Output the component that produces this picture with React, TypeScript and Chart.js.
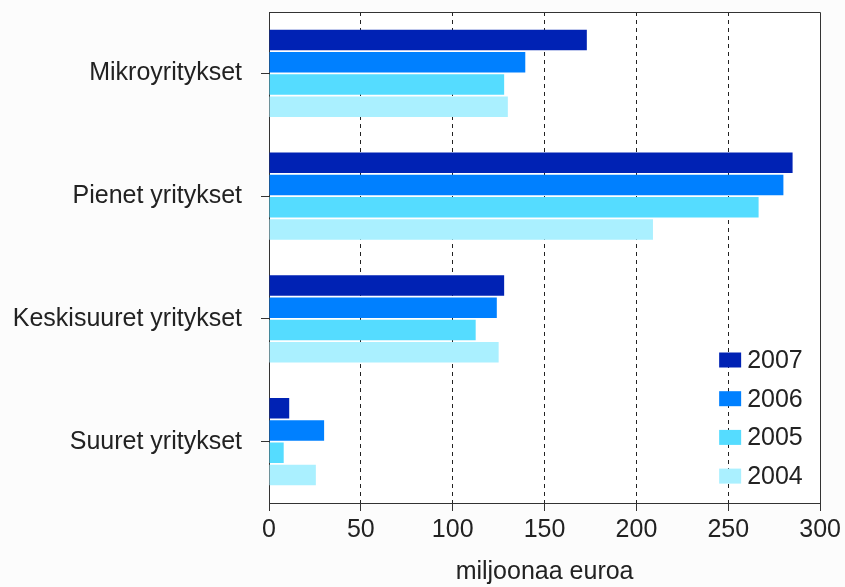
import { useEffect, useRef } from 'react';
import { Chart, registerables } from 'chart.js';

Chart.register(...registerables);

const categories = ['Mikroyritykset', 'Pienet yritykset', 'Keskisuuret yritykset', 'Suuret yritykset'];
const seriesLabels = ['2007', '2006', '2005', '2004'];
const values2007 = [173, 285, 128, 11];
const values2006 = [139.5, 280, 124, 30];
const values2005 = [128, 266.5, 112.5, 8];
const values2004 = [130, 209, 125, 25.5];
const seriesColors = ['#0022b4', '#0080ff', '#55dcff', '#aaf0ff'];
const xMin = 0;
const xMax = 300;
const xStep = 50;
const axisTitle = 'miljoonaa euroa';

const FONT = '"Liberation Sans", Arial, sans-serif';
const FONT_SIZE = 25;

const backgroundPlugin = {
  id: 'bgPlugin',
  beforeDraw(chart: any) {
    const { ctx, chartArea } = chart;
    ctx.save();
    ctx.fillStyle = '#fcfcfc';
    ctx.fillRect(0, 0, chart.width, chart.height);
    ctx.fillStyle = '#ffffff';
    ctx.fillRect(chartArea.left, chartArea.top, chartArea.right - chartArea.left, chartArea.bottom - chartArea.top);
    ctx.restore();
  },
};

const framePlugin = {
  id: 'framePlugin',
  afterDraw(chart: any) {
    const { ctx, chartArea } = chart;
    const t = Math.round(chartArea.top) + 0.5;
    const r = Math.round(chartArea.right) + 0.5;
    const l = Math.round(chartArea.left) + 0.5;
    const b = Math.round(chartArea.bottom) + 0.5;
    ctx.save();
    ctx.strokeStyle = '#333';
    ctx.lineWidth = 1;
    ctx.beginPath();
    ctx.moveTo(l, t);
    ctx.lineTo(r, t);
    ctx.lineTo(r, b);
    ctx.stroke();
    ctx.restore();
  },
};

const legendPlugin = {
  id: 'insideLegend',
  afterDraw(chart: any) {
    const { ctx, chartArea } = chart;
    const boxW = 22;
    const boxH = 15;
    const x0 = chartArea.right - 101;
    const rowH = 38.7;
    const firstY = chartArea.bottom - 143;
    ctx.save();
    ctx.font = `${FONT_SIZE}px ${FONT}`;
    ctx.textBaseline = 'middle';
    ctx.textAlign = 'left';
    chart.data.datasets.forEach((ds: any, i: number) => {
      const cy = firstY + i * rowH;
      ctx.fillStyle = ds.backgroundColor;
      ctx.fillRect(x0, cy - boxH / 2, boxW, boxH);
      ctx.fillStyle = '#222';
      ctx.fillText(ds.label, x0 + 28, cy + 1);
    });
    ctx.restore();
  },
};

export default function App() {
  const canvasRef = useRef<HTMLCanvasElement | null>(null);

  useEffect(() => {
    document.body.style.margin = '0';
    const canvas = canvasRef.current;
    if (!canvas) return;
    const seriesValues = [values2007, values2006, values2005, values2004];
    const chart = new Chart(canvas, {
      type: 'bar',
      data: {
        labels: categories,
        datasets: seriesLabels.map((label, i) => ({
          label,
          data: seriesValues[i],
          backgroundColor: seriesColors[i],
          borderWidth: 0,
          categoryPercentage: 0.725,
          barPercentage: 0.93,
        })),
      },
      options: {
        indexAxis: 'y',
        animation: false,
        responsive: true,
        maintainAspectRatio: false,
        layout: { padding: { top: 12, right: 24, left: 0, bottom: 0 } },
        plugins: {
          legend: { display: false },
          tooltip: { enabled: false },
        },
        scales: {
          x: {
            type: 'linear',
            min: xMin,
            max: xMax,
            ticks: {
              stepSize: xStep,
              color: '#222',
              font: { family: FONT, size: FONT_SIZE },
              padding: 4,
            },
            grid: {
              color: (c: any) =>
                c.tick && (c.tick.value === xMin || c.tick.value === xMax) ? 'rgba(0,0,0,0)' : '#222',
              lineWidth: 1,
              tickLength: 8,
              tickColor: '#333',
              drawTicks: true,
            },
            border: { display: true, color: '#333', width: 1, dash: [4, 4] },
            title: {
              display: true,
              text: axisTitle,
              color: '#222',
              font: { family: FONT, size: FONT_SIZE },
              padding: { top: 0, bottom: 0 },
            },
            afterFit(scale: any) {
              scale.height = 84;
            },
          },
          y: {
            type: 'category',
            ticks: {
              color: '#222',
              font: { family: FONT, size: FONT_SIZE },
              padding: 19,
            },
            grid: {
              offset: false,
              drawOnChartArea: false,
              drawTicks: true,
              tickLength: 8,
              tickColor: '#333',
              color: '#333',
            },
            border: { display: true, color: '#333', width: 1 },
            afterFit(scale: any) {
              scale.width = 269;
              scale.paddingTop = 0;
              scale.paddingBottom = 0;
            },
          },
        },
      },
      plugins: [backgroundPlugin, framePlugin, legendPlugin],
    } as any);
    return () => chart.destroy();
  }, []);

  return (
    <div style={{ position: 'relative', width: 845, height: 587 }}>
      <canvas ref={canvasRef} />
    </div>
  );
}
